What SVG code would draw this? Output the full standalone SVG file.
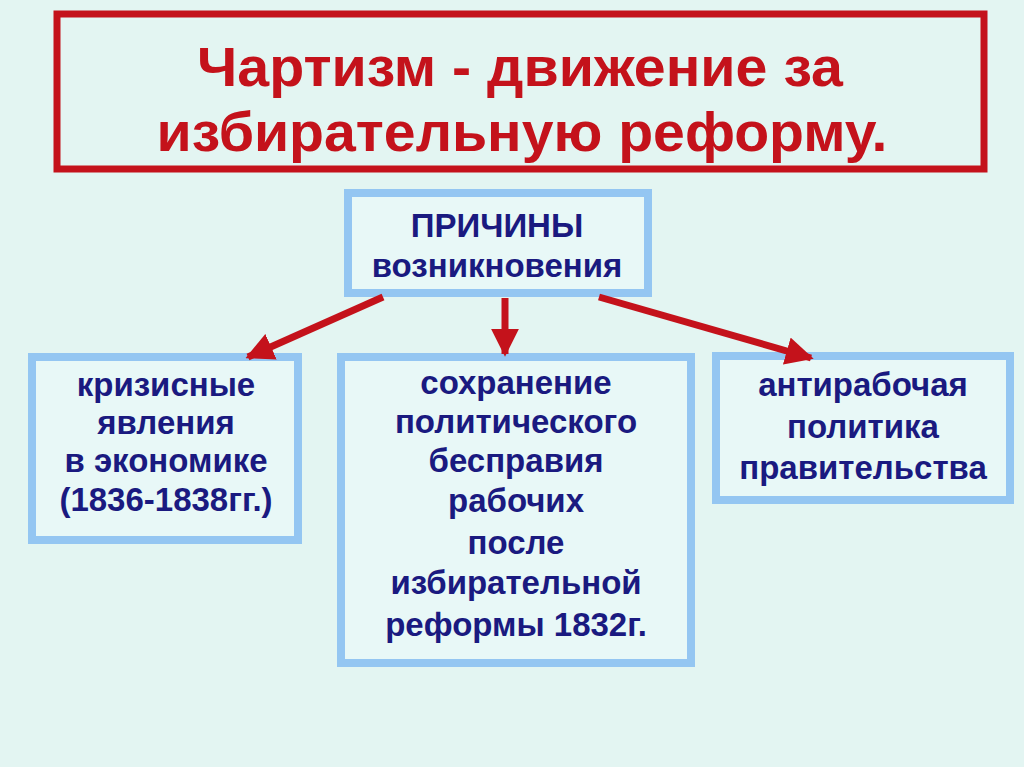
<svg xmlns="http://www.w3.org/2000/svg" width="1024" height="767" viewBox="0 0 1024 767">
<defs>
<style>
.bg{fill:#e3f5f2}
.title{fill:none;stroke:#c4121b;stroke-width:7}
.ttl{font-family:"Liberation Sans",Arial,sans-serif;font-weight:bold;font-size:56px;fill:#c4121b;text-anchor:middle}
.box{fill:#e8f8f7;stroke:#94c6f2;stroke-width:8}
.t{font-family:"Liberation Sans",Arial,sans-serif;font-weight:bold;font-size:33px;fill:#1a1a80;text-anchor:middle}
.arr{stroke:#c4121b;stroke-width:7;fill:none;marker-end:url(#ah)}
</style>
<marker id="ah" viewBox="0 0 10 10" refX="9" refY="5" markerWidth="4" markerHeight="4" orient="auto">
<path d="M0,0 L10,5 L0,10 z" fill="#c4121b"/>
</marker>
</defs>
<rect class="bg" x="0" y="0" width="1024" height="767"/>
<g id="title">
<rect class="title" x="57" y="14" width="927" height="155"/>
<text class="ttl" x="520" y="86" textLength="646" lengthAdjust="spacingAndGlyphs">Чартизм - движение за</text>
<text class="ttl" x="522" y="151" textLength="731" lengthAdjust="spacingAndGlyphs">избирательную реформу.</text>
</g>
<g id="causes">
<rect class="box" x="348" y="193" width="300" height="100"/>
<text class="t" x="497" y="237">ПРИЧИНЫ</text>
<text class="t" x="497" y="277">возникновения</text>
</g>
<g id="crisis">
<rect class="box" x="32" y="357" width="266" height="183"/>
<text class="t" x="166" y="396">кризисные</text>
<text class="t" x="166" y="434">явления</text>
<text class="t" x="166" y="472">в экономике</text>
<text class="t" x="166" y="511">(1836-1838гг.)</text>
</g>
<g id="rights">
<rect class="box" x="341" y="357" width="350" height="306"/>
<text class="t" x="516" y="394">сохранение</text>
<text class="t" x="516" y="433">политического</text>
<text class="t" x="516" y="472">бесправия</text>
<text class="t" x="516" y="512">рабочих</text>
<text class="t" x="516" y="554">после</text>
<text class="t" x="516" y="594">избирательной</text>
<text class="t" x="516" y="636">реформы 1832г.</text>
</g>
<g id="policy">
<rect class="box" x="716" y="356" width="294" height="144"/>
<text class="t" x="863" y="396">антирабочая</text>
<text class="t" x="863" y="438">политика</text>
<text class="t" x="863" y="479">правительства</text>
</g>
<g id="connectors">
<line class="arr" x1="383" y1="297" x2="248" y2="357"/>
<line class="arr" x1="505" y1="298" x2="505" y2="354"/>
<line class="arr" x1="599" y1="297" x2="811" y2="358"/>
</g>
</svg>
